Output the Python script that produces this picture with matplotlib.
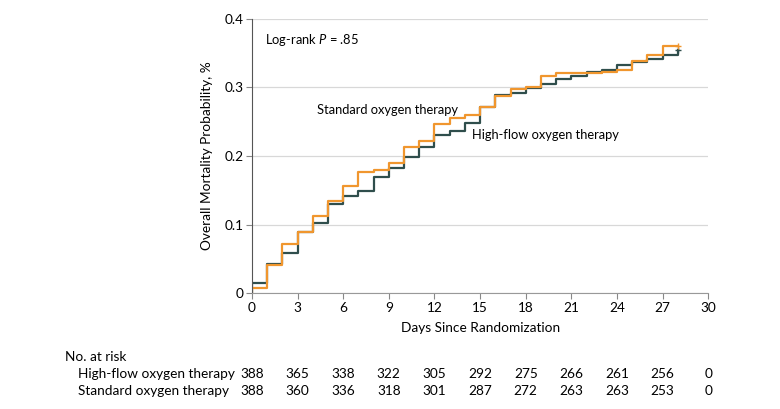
import numpy as np
import matplotlib
matplotlib.use("Agg")
import matplotlib.pyplot as plt

plt.rcParams['font.family'] = ['Lato', 'DejaVu Sans']
plt.rcParams['mathtext.fontset'] = 'custom'
plt.rcParams['mathtext.it'] = 'Lato:italic'
plt.rcParams['mathtext.rm'] = 'Lato'

# step values per day interval (day 0..27)
days = np.arange(0, 29)
high_flow = [0.015, 0.043, 0.059, 0.090, 0.103, 0.130, 0.142, 0.149, 0.170, 0.183,
             0.198, 0.213, 0.230, 0.236, 0.248, 0.272, 0.289, 0.292, 0.299, 0.305,
             0.313, 0.317, 0.323, 0.326, 0.332, 0.337, 0.341, 0.347, 0.355]
standard = [0.007, 0.041, 0.072, 0.090, 0.113, 0.134, 0.157, 0.177, 0.180, 0.190,
            0.213, 0.222, 0.246, 0.255, 0.260, 0.272, 0.287, 0.297, 0.300, 0.317,
            0.321, 0.321, 0.321, 0.322, 0.326, 0.338, 0.347, 0.361, 0.361]

risk_days = [0, 3, 6, 9, 12, 15, 18, 21, 24, 27, 30]
risk_high_flow = [388, 365, 338, 322, 305, 292, 275, 266, 261, 256, 0]
risk_standard = [388, 360, 336, 318, 301, 287, 272, 263, 263, 253, 0]

dark = '#2f4e4c'
orange = '#f0962e'
fs = 9.8

fig = plt.figure(figsize=(7.8, 4.09), dpi=100)
ax = fig.add_axes([0.323, 0.283, 0.585, 0.671])

ax.step(np.r_[0, days], np.r_[0, high_flow], where='post', color=dark, lw=1.6)
ax.step(np.r_[0, days], np.r_[0, standard], where='post', color=orange, lw=1.6)
ax.plot(days[-1], high_flow[-1], marker='+', color=dark, ms=5, mew=1)
ax.plot(days[-1], standard[-1], marker='+', color=orange, ms=5, mew=1)

ax.set_xlim(0, 30)
ax.set_ylim(0, 0.4)
ax.set_xticks(risk_days)
ax.set_yticks([0, 0.1, 0.2, 0.3, 0.4])
ax.set_yticklabels(['0', '0.1', '0.2', '0.3', '0.4'])
ax.grid(axis='y', color='#d8d8d8', lw=0.9)
ax.set_axisbelow(True)
for s in ['top', 'right']:
    ax.spines[s].set_visible(False)
ax.spines['left'].set_color('#555555')
ax.spines['bottom'].set_color('#999999')
ax.tick_params(axis='both', labelsize=fs, color='#888888', length=4, pad=2)
ax.set_xlabel('Days Since Randomization', fontsize=fs, labelpad=6)
ax.set_ylabel('Overall Mortality Probability, %', fontsize=fs, labelpad=8)

ax.text(0.85, 0.369, 'Log-rank $P$ = .85', fontsize=9.3, va='center')
ax.text(4.3, 0.267, 'Standard oxygen therapy', fontsize=9.3, va='center')
ax.text(14.5, 0.231, 'High-flow oxygen therapy', fontsize=9.3, va='center')

# number at risk table
tr = ax.get_xaxis_transform()
fig.text(0.083, (409 - 357) / 409, 'No. at risk', fontsize=fs, va='center')
fig.text(0.1, (409 - 374) / 409, 'High-flow oxygen therapy', fontsize=fs, va='center')
fig.text(0.1, (409 - 391) / 409, 'Standard oxygen therapy', fontsize=fs, va='center')
for d, a, b in zip(risk_days, risk_high_flow, risk_standard):
    ax.text(d, -0.294, str(a), transform=tr, ha='center', va='center', fontsize=fs, clip_on=False)
    ax.text(d, -0.356, str(b), transform=tr, ha='center', va='center', fontsize=fs, clip_on=False)

fig.savefig('out.png', dpi=100)
